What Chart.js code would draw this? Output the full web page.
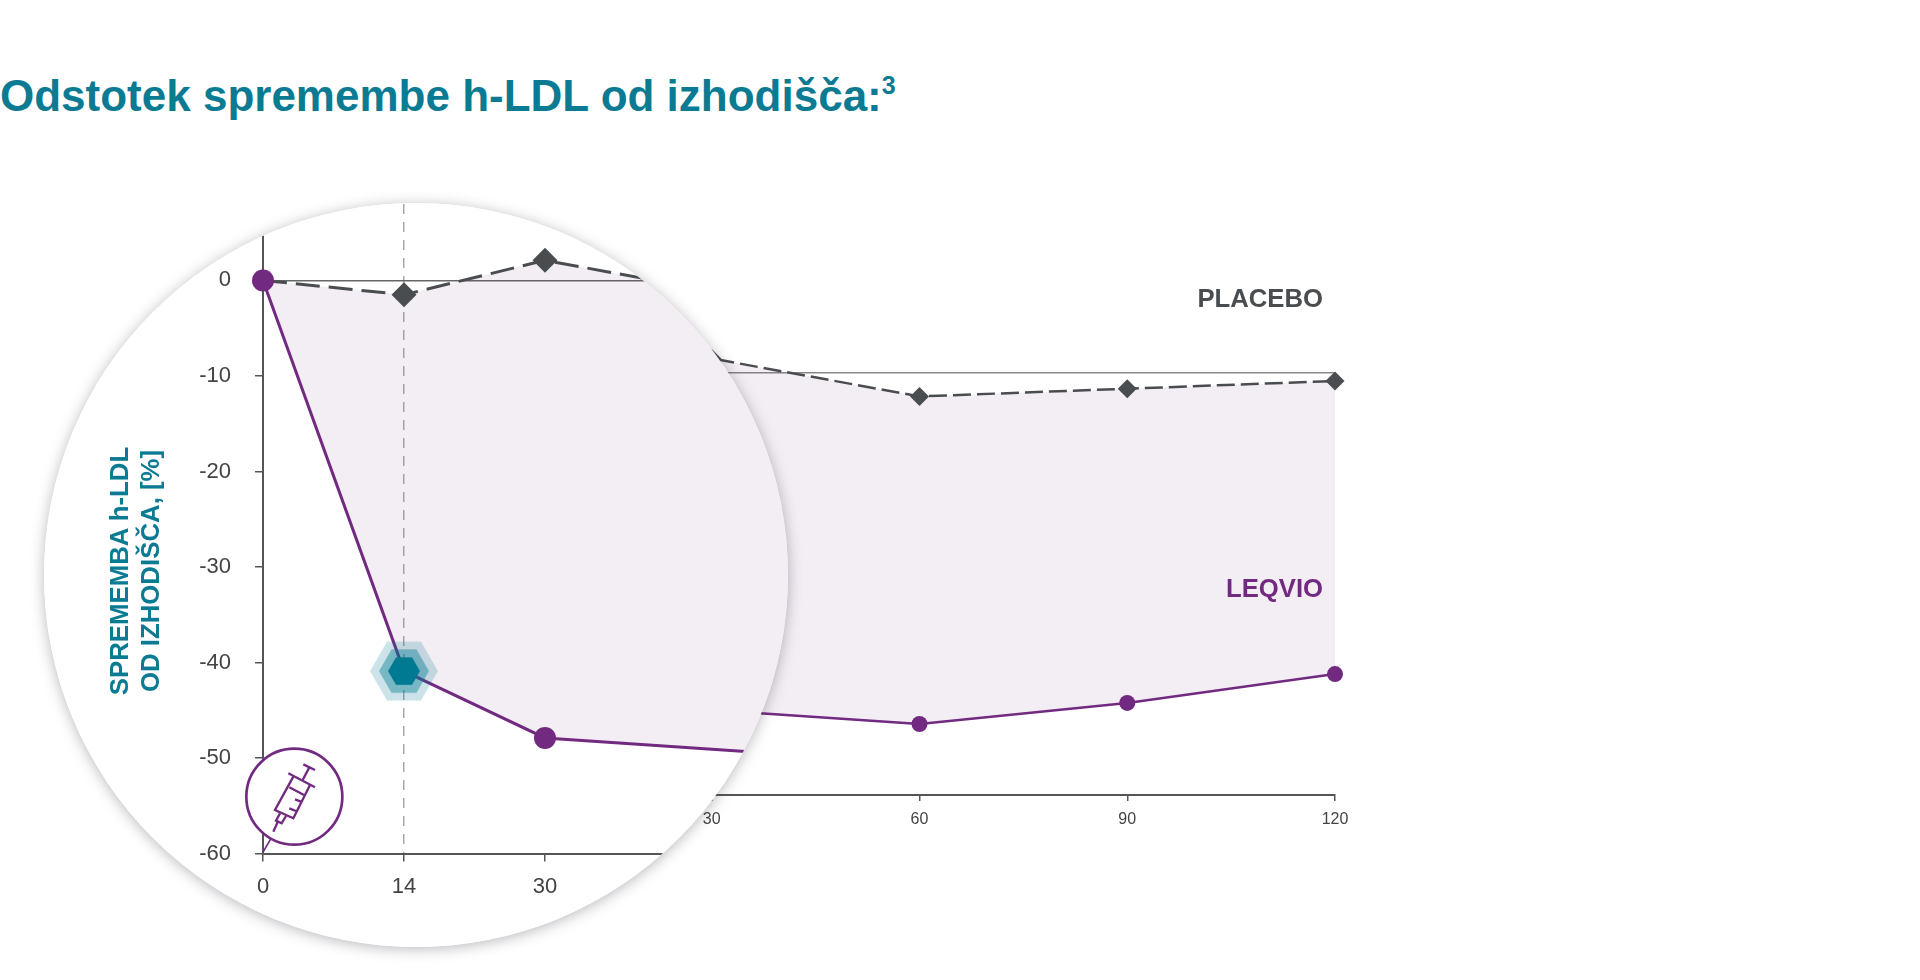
<!DOCTYPE html>
<html>
<head>
<meta charset="utf-8">
<title>Odstotek spremembe h-LDL od izhodišča</title>
<script src="https://cdn.jsdelivr.net/npm/chart.js@4/dist/chart.umd.min.js"></script>
<style>
    html, body { margin: 0; padding: 0; background: #fff; width: 1920px; height: 980px; overflow: hidden; }
    body { position: relative; font-family: "Liberation Sans", Arial, sans-serif; }
    canvas { position: absolute; left: 0; top: 0; }
    h1 { position: absolute; left: 0; top: 71px; margin: 0; font-size: 44px; line-height: 50px; font-weight: bold; color: #0a7b93; white-space: nowrap; }
    h1 sup { font-size: 25px; line-height: 0; vertical-align: 17px; }
    .tag { position: absolute; right: 597px; font-size: 25.7px; line-height: 30px; font-weight: bold; }
    #lens { position: absolute; left: 44px; top: 203px; width: 744px; height: 744px; border-radius: 50%; overflow: hidden; background: #fff; }
    #lensShadow { position: absolute; left: 44px; top: 203px; width: 744px; height: 744px; border-radius: 50%; box-shadow: 0 2px 14px rgba(50, 45, 60, 0.34); }
    #lensChart { top: -60px; }
    #axisTitle { position: absolute; left: 91px; top: 368px; width: 0; height: 0; }
    #axisTitle div { position: absolute; left: -150px; top: -31px; width: 300px; transform: rotate(-90deg); text-align: center; font-size: 25.8px; line-height: 31px; font-weight: bold; color: #0a7b93; white-space: nowrap; }
    #syringe { position: absolute; left: 186px; top: 527px; width: 140px; height: 140px; }
</style>
</head>
<body>

<h1>Odstotek spremembe h-LDL od izhodišča:<sup>3</sup></h1>
<canvas id="mainChart" width="1920" height="980"></canvas>
<div class="tag" style="top: 283px; color: #4a4d50;">PLACEBO</div>
<div class="tag" style="top: 573px; color: #722a80;">LEQVIO</div>

<div id="lensShadow"></div>
<div id="lens">
    <canvas id="lensChart" width="1500" height="804"></canvas>
    <div id="axisTitle"><div>SPREMEMBA h-LDL<br>OD IZHODIŠČA, [%]</div></div>
    <svg id="syringe" viewBox="0 0 420 420" fill="none" stroke="#722a80" stroke-width="7">
        <line x1="100" y1="365" x2="123" y2="325" stroke-width="5"/>
        <circle cx="193" cy="200" r="144" fill="#fff" stroke-width="8"/>
        <line x1="220" y1="103" x2="255" y2="120"/>
        <line x1="238" y1="112" x2="218" y2="150"/>
        <line x1="175" y1="130" x2="255" y2="172"/>
        <polyline points="190,140 135,240 190,265 240,165"/>
        <line x1="178" y1="172" x2="222" y2="195"/>
        <line x1="195" y1="208" x2="213" y2="215"/>
        <line x1="178" y1="235" x2="198" y2="243"/>
        <polyline points="150,250 138,272 155,280 168,258"/>
        <line x1="143" y1="276" x2="130" y2="305"/>
    </svg>
</div>

<script>
// values
const days = ['0', '14', '30', '60', '90', '120'];
const leqvio = [0, -40.9, -47.9, -49.9, -46.9, -42.8];
const placebo = [0, -1.5, 2.1, -3.3, -2.2, -1.1];

// the axis is not to scale: 14 sits halfway to 30, the rest is every 30 days
const axisSlots = ['0', '14', '30', '', '60', '', '90', '', '120'];
const yTicks = [0, -10, -20, -30, -40, -50, -60];

const purple = '#722a80';
const grey = '#4a4d50';
const fillColor = 'rgba(114, 42, 128, 0.085)';
const fontName = '"Liberation Sans", Arial, sans-serif';

function hexPath(ctx, c, r) {
    ctx.beginPath();
    for (let i = 0; i < 6; i++) {
        ctx.lineTo(c + r * Math.cos(i * Math.PI / 3), c + r * Math.sin(i * Math.PI / 3));
    }
    ctx.closePath();
}

// day 14 marker in the lens
const hexMark = document.createElement('canvas');
hexMark.width = 72;
hexMark.height = 72;
const hexCtx = hexMark.getContext('2d');
hexCtx.fillStyle = 'rgba(0, 122, 146, 0.2)';
hexPath(hexCtx, 36, 34);
hexCtx.fill();
hexCtx.fillStyle = 'rgba(0, 122, 146, 0.42)';
hexPath(hexCtx, 36, 25);
hexCtx.fill();
hexCtx.fillStyle = '#007a92';
hexPath(hexCtx, 36, 16);
hexCtx.fill();

function drawChart(id, o) {
    return new Chart(document.getElementById(id), {
        type: 'line',
        data: {
            labels: axisSlots,
            datasets: [
                {
                    label: 'LEQVIO',
                    data: days.map((d, i) => ({ x: d, y: leqvio[i] })),
                    borderColor: purple,
                    borderWidth: o.lineWidth,
                    pointBackgroundColor: purple,
                    pointBorderWidth: 0,
                    pointRadius: o.circle,
                    pointStyle: ctx => (o.hex && ctx.dataIndex === 1 ? hexMark : 'circle'),
                    tension: 0,
                    fill: false,
                    clip: false
                },
                {
                    label: 'PLACEBO',
                    data: days.map((d, i) => ({ x: d, y: placebo[i] })),
                    borderColor: grey,
                    borderWidth: o.dashWidth,
                    borderDash: o.dash,
                    backgroundColor: fillColor,
                    pointBackgroundColor: grey,
                    pointBorderWidth: 0,
                    pointStyle: 'rectRot',
                    pointRadius: ctx => (ctx.dataIndex === 0 ? 0 : o.diamond),
                    tension: 0,
                    fill: '-1',
                    clip: false
                }
            ]
        },
        options: {
            responsive: false,
            animation: false,
            devicePixelRatio: 1,
            layout: { padding: o.padding },
            plugins: { legend: { display: false }, tooltip: { enabled: false } },
            scales: {
                x: {
                    type: 'category',
                    offset: false,
                    afterBuildTicks: axis => {
                        axis.ticks = axis.ticks.filter(t => axisSlots[t.value] !== '');
                    },
                    afterFit: axis => { axis.height = o.axisHeight; },
                    border: { color: '#555', width: 2, dash: [10, 8] },
                    grid: {
                        color: ctx => (ctx.tick && axisSlots[ctx.tick.value] === '14' ? '#aaa' : 'transparent'),
                        lineWidth: 1.5,
                        tickColor: '#555',
                        tickLength: o.tickLength,
                        tickWidth: 1.5
                    },
                    ticks: {
                        autoSkip: false,
                        maxRotation: 0,
                        color: '#444',
                        padding: o.xPad,
                        font: { family: fontName, size: o.fontSize }
                    }
                },
                y: {
                    min: -60,
                    max: 8,
                    afterBuildTicks: axis => {
                        axis.ticks = yTicks.map(v => ({ value: v }));
                    },
                    afterFit: axis => { axis.width = o.axisWidth; },
                    border: { color: '#555', width: 2 },
                    grid: {
                        color: ctx => (ctx.tick && ctx.tick.value === 0 ? o.zeroLine : 'transparent'),
                        lineWidth: 1.5,
                        tickColor: '#555',
                        tickLength: o.tickLength,
                        tickWidth: 1.5
                    },
                    ticks: {
                        color: '#444',
                        padding: 24,
                        callback: v => String(v),
                        font: { family: fontName, size: o.fontSize }
                    }
                }
            }
        }
    });
}

// chart behind the lens
drawChart('mainChart', {
    padding: { left: 0, top: 317, right: 585, bottom: 0 },
    axisWidth: 504,
    axisHeight: 185,
    lineWidth: 2.5,
    dashWidth: 2.5,
    dash: [18, 6],
    circle: 8,
    diamond: 9.5,
    hex: false,
    tickLength: 6,
    xPad: 9,
    fontSize: 16,
    zeroLine: '#888'
});

// same data, magnified inside the circle
drawChart('lensChart', {
    padding: { left: 0, top: 61, right: 153, bottom: 0 },
    axisWidth: 219,
    axisHeight: 93.5,
    lineWidth: 3,
    dashWidth: 3,
    dash: [24, 9],
    circle: 11,
    diamond: 12.5,
    hex: true,
    tickLength: 8,
    xPad: 12,
    fontSize: 22,
    zeroLine: '#666'
});
</script>
</body>
</html>
